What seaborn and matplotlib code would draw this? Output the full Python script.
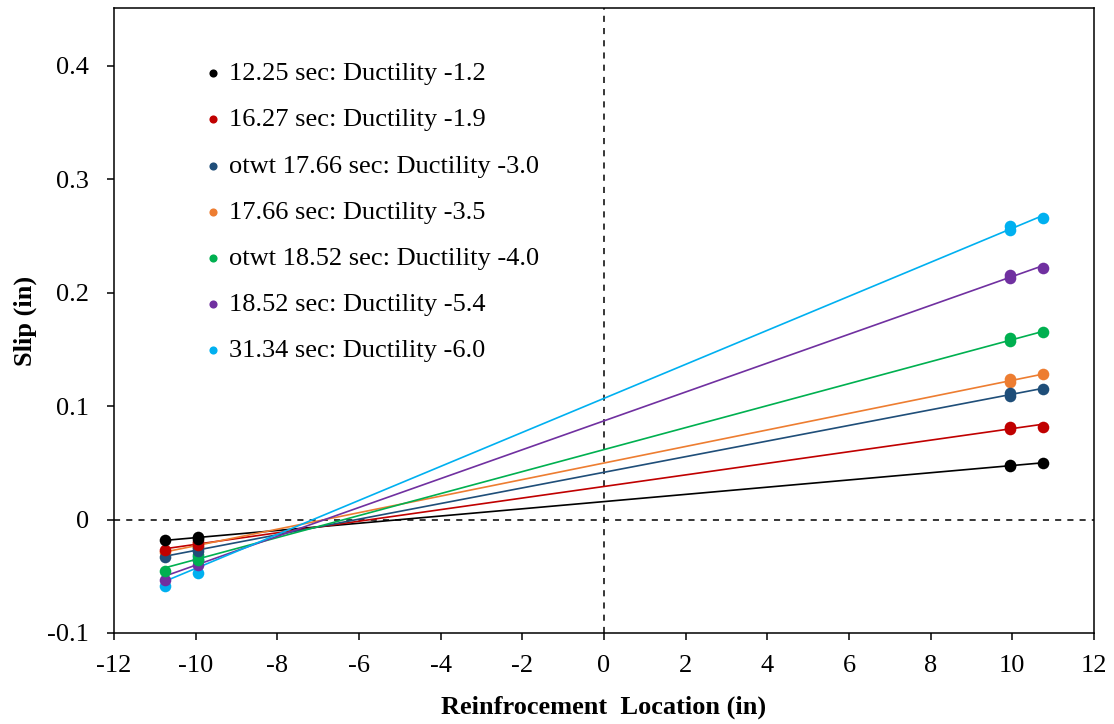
import matplotlib
matplotlib.use("Agg")
from matplotlib import pyplot as plt
import pandas as pd
import seaborn as sns

# reinforcement locations (in), two readings at the inner bars
x_loc = [-10.75, -9.95, -9.95, 9.95, 9.95, 10.75]

labels = ["12.25 sec: Ductility -1.2",
          "16.27 sec: Ductility -1.9",
          "otwt 17.66 sec: Ductility -3.0",
          "17.66 sec: Ductility -3.5",
          "otwt 18.52 sec: Ductility -4.0",
          "18.52 sec: Ductility -5.4",
          "31.34 sec: Ductility -6.0"]

slip_1 = [-0.018, -0.015, -0.017, 0.047, 0.048, 0.050]
slip_2 = [-0.027, -0.022, -0.020, 0.080, 0.082, 0.082]
slip_3 = [-0.033, -0.028, -0.025, 0.109, 0.112, 0.115]
slip_4 = [-0.029, -0.024, -0.021, 0.121, 0.124, 0.128]
slip_5 = [-0.045, -0.036, -0.031, 0.157, 0.160, 0.165]
slip_6 = [-0.053, -0.040, -0.036, 0.213, 0.216, 0.222]
slip_7 = [-0.059, -0.047, -0.033, 0.255, 0.259, 0.266]

colors = ["#000000", "#C00000", "#1F4E79", "#ED7D31",
          "#00B050", "#7030A0", "#00B0F0"]

x_ticks = list(range(-12, 13, 2))
y_ticks = [-0.1, 0.0, 0.1, 0.2, 0.3, 0.4]
y_ticklabels = ["-0.1", "0", "0.1", "0.2", "0.3", "0.4"]

sns.set_style("ticks")
plt.rcParams["font.family"] = ["Liberation Serif", "DejaVu Serif"]
plt.rcParams["axes.linewidth"] = 1.1
for k in ["text.color", "axes.labelcolor", "xtick.color", "ytick.color",
          "axes.edgecolor"]:
    plt.rcParams[k] = "black"

all_slips = [slip_1, slip_2, slip_3, slip_4, slip_5, slip_6, slip_7]
rows = []
for lab, ys in zip(labels, all_slips):
    for xv, yv in zip(x_loc, ys):
        rows.append({"loc": xv, "slip": yv, "series": lab})
df = pd.DataFrame(rows)

fig = plt.figure(figsize=(11.14, 7.24), dpi=100)
ax = fig.add_axes([0.1023, 0.1257, 0.8797, 0.8633])

ax.axvline(0, color="black", ls=(0, (4, 4)), lw=1.1, zorder=1)
ax.axhline(0, color="black", ls=(0, (4, 4)), lw=1.1, zorder=1)

# first series ends up on top where the markers overlap
for i, (lab, col) in enumerate(zip(labels, colors)):
    d = df[df["series"] == lab]
    sns.regplot(data=d, x="loc", y="slip", ax=ax, ci=None, truncate=True,
                color=col,
                scatter_kws={"s": 70, "alpha": 1, "linewidths": 0,
                             "zorder": 3.9 - i * 0.1},
                line_kws={"lw": 1.2, "zorder": 2})

ax.set_xlim(-12, 12)
ax.set_ylim(-0.1, 0.451)
ax.set_xticks(x_ticks)
ax.set_xticklabels([str(t) for t in x_ticks])
ax.set_yticks(y_ticks)
ax.set_yticklabels(y_ticklabels)
ax.tick_params(direction="out", length=5, width=1.1, labelsize=19)
ax.tick_params(axis="x", pad=11)
ax.tick_params(axis="y", pad=13)
for s in ax.spines.values():
    s.set_visible(True)
    s.set_color("black")

ax.set_xlabel("Reinfrocement  Location (in)", fontsize=19, fontweight="bold",
              labelpad=13)
ax.set_ylabel("Slip (in)", fontsize=19, fontweight="bold", labelpad=7)

ax.legend(handles=list(ax.collections), labels=labels,
          loc="upper left", bbox_to_anchor=(0.069, 0.952), frameon=False,
          fontsize=19, markerscale=0.7, scatterpoints=1, handlelength=0.6,
          handletextpad=0.3, labelspacing=0.86)

plt.savefig("out.png", dpi=100)
plt.close()
